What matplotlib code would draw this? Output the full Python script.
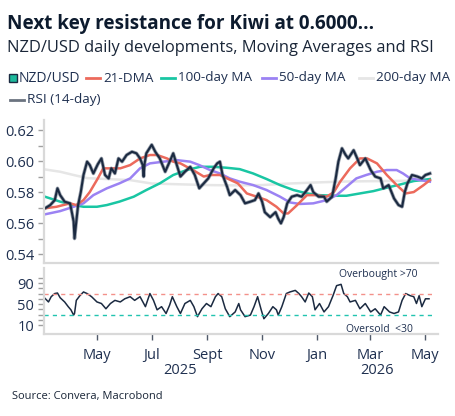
import numpy as np
import pandas as pd
import matplotlib
matplotlib.use("Agg")
import matplotlib.pyplot as plt
import matplotlib.dates as mdates
import matplotlib.transforms as mtransforms
from matplotlib.lines import Line2D

plt.rcParams['font.family'] = ['Open Sans', 'DejaVu Sans']

# NZD/USD daily
price_dates = ["2025-03-04", "2025-03-10", "2025-03-15", "2025-03-18", "2025-03-21", "2025-03-26",
               "2025-04-01", "2025-04-03", "2025-04-05", "2025-04-06", "2025-04-08", "2025-04-10",
               "2025-04-13", "2025-04-16", "2025-04-20", "2025-04-23", "2025-04-27", "2025-05-02",
               "2025-05-06", "2025-05-10", "2025-05-14", "2025-05-17", "2025-05-21", "2025-05-25",
               "2025-05-29", "2025-06-03", "2025-06-09", "2025-06-14", "2025-06-18", "2025-06-21",
               "2025-06-22", "2025-06-23", "2025-06-25", "2025-07-01", "2025-07-05", "2025-07-10",
               "2025-07-16", "2025-07-21", "2025-07-25", "2025-07-29", "2025-08-02", "2025-08-07",
               "2025-08-13", "2025-08-18", "2025-08-23", "2025-08-28", "2025-09-02", "2025-09-08",
               "2025-09-12", "2025-09-15", "2025-09-18", "2025-09-23", "2025-09-26", "2025-10-02",
               "2025-10-08", "2025-10-13", "2025-10-19", "2025-10-24", "2025-10-28", "2025-11-01",
               "2025-11-04", "2025-11-10", "2025-11-16", "2025-11-19", "2025-11-22", "2025-11-25",
               "2025-11-29", "2025-12-04", "2025-12-10", "2025-12-15", "2025-12-21", "2025-12-25",
               "2025-12-28", "2026-01-03", "2026-01-09", "2026-01-12", "2026-01-18", "2026-01-22",
               "2026-01-25", "2026-01-29", "2026-02-02", "2026-02-05", "2026-02-11", "2026-02-15",
               "2026-02-18", "2026-02-24", "2026-03-02", "2026-03-07", "2026-03-13", "2026-03-16",
               "2026-03-22", "2026-03-28", "2026-04-02", "2026-04-06", "2026-04-09", "2026-04-12",
               "2026-04-17", "2026-04-23", "2026-04-28", "2026-05-02", "2026-05-07"]
price = [0.5695, 0.5716, 0.5748, 0.5824, 0.578, 0.5738,
         0.5727, 0.567, 0.561, 0.550, 0.561, 0.5716,
         0.580, 0.591, 0.5996, 0.5974, 0.592, 0.598,
         0.6017, 0.591, 0.5888, 0.5953, 0.592, 0.6017,
         0.5996, 0.6039, 0.606, 0.605, 0.6017, 0.5974,
         0.590, 0.598, 0.605, 0.6105, 0.606, 0.6017,
         0.5931, 0.5996, 0.605, 0.5974, 0.590, 0.5931,
         0.5963, 0.591, 0.5824, 0.5856, 0.5888, 0.5953,
         0.5985, 0.5996, 0.591, 0.5834, 0.578, 0.5813,
         0.578, 0.5727, 0.5738, 0.5748, 0.5791, 0.5738,
         0.567, 0.5638, 0.567, 0.5628, 0.5598, 0.5638,
         0.5727, 0.577, 0.578, 0.577, 0.5813, 0.5845,
         0.580, 0.577, 0.577, 0.5738, 0.577, 0.5888,
         0.5996, 0.6082, 0.604, 0.6017, 0.607, 0.6017,
         0.5974, 0.6017, 0.5942, 0.590, 0.5888, 0.5824,
         0.5845, 0.5759, 0.5716, 0.5705, 0.580, 0.5856,
         0.591, 0.590, 0.5888, 0.591, 0.592]

dma21_dates = ["2025-03-04", "2025-03-17", "2025-04-01", "2025-04-08", "2025-04-16", "2025-04-23",
               "2025-05-02", "2025-05-08", "2025-05-15", "2025-05-27", "2025-06-07", "2025-06-18",
               "2025-06-29", "2025-07-07", "2025-07-18", "2025-07-25", "2025-08-02", "2025-08-09",
               "2025-08-16", "2025-08-28", "2025-09-04", "2025-09-15", "2025-09-23", "2025-10-05",
               "2025-10-15", "2025-10-26", "2025-11-06", "2025-11-17", "2025-11-25", "2025-11-30",
               "2025-12-10", "2025-12-21", "2026-01-01", "2026-01-12", "2026-01-20", "2026-01-27",
               "2026-02-07", "2026-02-18", "2026-02-26", "2026-03-09", "2026-03-20", "2026-03-31",
               "2026-04-10", "2026-04-19", "2026-04-30", "2026-05-07"]
dma21 = [0.5695, 0.5705, 0.5727, 0.5716, 0.5748, 0.580,
         0.5888, 0.5953, 0.5953, 0.5953, 0.5974, 0.6017,
         0.6039, 0.6039, 0.6017, 0.5996, 0.5985, 0.5963,
         0.5942, 0.590, 0.591, 0.591, 0.5888, 0.5856,
         0.5791, 0.577, 0.5748, 0.5705, 0.5662, 0.5662,
         0.5716, 0.578, 0.578, 0.577, 0.580, 0.5867,
         0.5953, 0.6017, 0.6017, 0.5985, 0.591, 0.5845,
         0.5791, 0.580, 0.5845, 0.5877]

ma50_dates = ["2025-03-04", "2025-03-21", "2025-04-05", "2025-04-16", "2025-04-27", "2025-05-12",
              "2025-05-26", "2025-06-07", "2025-06-18", "2025-06-29", "2025-07-14", "2025-07-29",
              "2025-08-13", "2025-08-23", "2025-09-04", "2025-09-15", "2025-09-26", "2025-10-07",
              "2025-10-22", "2025-11-06", "2025-11-21", "2025-12-02", "2025-12-13", "2025-12-28",
              "2026-01-12", "2026-01-23", "2026-02-03", "2026-02-14", "2026-02-25", "2026-03-09",
              "2026-03-20", "2026-03-31", "2026-04-07", "2026-04-15", "2026-04-26", "2026-05-07"]
ma50 = [0.5656, 0.5677, 0.5705, 0.5727, 0.578, 0.5824,
        0.5856, 0.5888, 0.5953, 0.5985, 0.5996, 0.6006,
        0.5996, 0.5974, 0.5942, 0.592, 0.5888, 0.5867,
        0.5845, 0.5813, 0.577, 0.5733, 0.5723, 0.5727,
        0.5748, 0.578, 0.5834, 0.5888, 0.591, 0.5931,
        0.5942, 0.5942, 0.592, 0.5888, 0.5877, 0.5867]

ma100_dates = ["2025-03-04", "2025-03-21", "2025-04-05", "2025-04-16", "2025-05-01", "2025-05-12",
               "2025-05-26", "2025-06-11", "2025-06-25", "2025-07-10", "2025-07-25", "2025-08-09",
               "2025-08-24", "2025-09-07", "2025-09-22", "2025-10-07", "2025-10-22", "2025-11-06",
               "2025-11-21", "2025-12-06", "2025-12-21", "2026-01-04", "2026-01-19", "2026-02-03",
               "2026-02-18", "2026-03-05", "2026-03-20", "2026-04-04", "2026-04-19", "2026-05-07"]
ma100 = [0.577, 0.5738, 0.5716, 0.5705, 0.5705, 0.5716,
         0.5738, 0.577, 0.5813, 0.5856, 0.591, 0.5942,
         0.5963, 0.5963, 0.5957, 0.5948, 0.592, 0.5884,
         0.5845, 0.5813, 0.5791, 0.578, 0.5776, 0.5776,
         0.5791, 0.5806, 0.5828, 0.5849, 0.5871, 0.5884]

ma200_dates = ["2025-03-04", "2025-03-21", "2025-04-05", "2025-04-20", "2025-05-12", "2025-06-07",
               "2025-07-01", "2025-08-01", "2025-09-01", "2025-10-01", "2025-11-01", "2025-12-01",
               "2026-01-01", "2026-02-01", "2026-03-01", "2026-04-01", "2026-05-07"]
ma200 = [0.5946, 0.5931, 0.591, 0.589, 0.5884, 0.5877,
         0.5855, 0.585, 0.5845, 0.5843, 0.5845, 0.5855,
         0.5862, 0.5868, 0.587, 0.5872, 0.5875]

rsi_dates = ["2025-03-04", "2025-03-08", "2025-03-11", "2025-03-15", "2025-03-18", "2025-03-21",
             "2025-03-26", "2025-03-30", "2025-04-02", "2025-04-05", "2025-04-06", "2025-04-08",
             "2025-04-12", "2025-04-16", "2025-04-20", "2025-04-25", "2025-05-01", "2025-05-06",
             "2025-05-11", "2025-05-16", "2025-05-21", "2025-05-27", "2025-06-01", "2025-06-07",
             "2025-06-12", "2025-06-18", "2025-06-24", "2025-06-29", "2025-07-03", "2025-07-07",
             "2025-07-12", "2025-07-17", "2025-07-21", "2025-07-24", "2025-07-29", "2025-08-02",
             "2025-08-07", "2025-08-13", "2025-08-17", "2025-08-21", "2025-08-26", "2025-08-31",
             "2025-09-05", "2025-09-10", "2025-09-13", "2025-09-17", "2025-09-21", "2025-09-26",
             "2025-10-02", "2025-10-06", "2025-10-08", "2025-10-13", "2025-10-19", "2025-10-23",
             "2025-10-27", "2025-10-31", "2025-11-03", "2025-11-08", "2025-11-13", "2025-11-17",
             "2025-11-19", "2025-11-23", "2025-11-28", "2025-12-02", "2025-12-08", "2025-12-12",
             "2025-12-15", "2025-12-19", "2025-12-23", "2025-12-27", "2025-12-30", "2026-01-04",
             "2026-01-09", "2026-01-14", "2026-01-19", "2026-01-23", "2026-01-28", "2026-01-31",
             "2026-02-04", "2026-02-07", "2026-02-13", "2026-02-18", "2026-02-24", "2026-03-02",
             "2026-03-07", "2026-03-13", "2026-03-17", "2026-03-23", "2026-03-28", "2026-04-02",
             "2026-04-06", "2026-04-10", "2026-04-15", "2026-04-19", "2026-04-22", "2026-04-25",
             "2026-04-28", "2026-05-02", "2026-05-06"]
rsi = [61, 54, 64, 70, 71, 62,
       54, 45, 39, 29, 32, 57,
       66, 73, 70, 64, 54, 51,
       41, 51, 57, 54, 60, 64,
       57, 64, 45, 70, 57, 39,
       45, 32, 48, 64, 45, 32,
       51, 57, 45, 26, 41, 51,
       45, 64, 70, 64, 41, 26,
       35, 51, 39, 26, 29, 45,
       64, 39, 22, 32, 45, 39,
       29, 45, 70, 73, 76, 70,
       64, 54, 71, 64, 39, 51,
       35, 45, 66, 85, 87.5, 70,
       64, 54, 57, 41, 51, 35,
       41, 29, 45, 35, 32, 35,
       57, 70, 66, 64, 51, 66,
       45, 60, 60]

month_ticks = ["2025-05-01", "2025-07-01", "2025-09-01", "2025-11-01", "2026-01-01", "2026-03-01", "2026-05-01"]
month_labels = ["May", "Jul", "Sept", "Nov", "Jan", "Mar", "May"]
years = ["2025", "2026"]

navy = "#1b2a41"
txt = "#1f3050"
spine_c = "#d9d9d9"
c21 = "#ec6a5c"
c50 = "#9b82f3"
c100 = "#19c6a3"
c200 = "#e6e6e6"

W, H = 455, 416
fig = plt.figure(figsize=(W / 100, H / 100), dpi=100)

def fx(x):
    return x / W

def fy(y):
    return 1 - y / H

x0 = pd.Timestamp("2025-03-03")
x1 = pd.Timestamp("2026-05-16")

ax = fig.add_axes([fx(44), fy(263), fx(438) - fx(44), fy(120) - fy(263)])
ax2 = fig.add_axes([fx(44), fy(334), fx(438) - fx(44), fy(268) - fy(334)])

ax.plot(pd.to_datetime(ma200_dates), ma200, color=c200, lw=1.8)
ax.plot(pd.to_datetime(ma100_dates), ma100, color=c100, lw=1.8)
ax.plot(pd.to_datetime(ma50_dates), ma50, color=c50, lw=1.8)
ax.plot(pd.to_datetime(dma21_dates), dma21, color=c21, lw=1.8)
ax.plot(pd.to_datetime(price_dates), price, color="#5a6678", lw=2.6, alpha=0.6)
ax.plot(pd.to_datetime(price_dates), price, color=navy, lw=1.5)

ax.set_xlim(x0, x1)
ax.set_ylim(0.5342, 0.6265)
ax.set_yticks([0.54, 0.56, 0.58, 0.60, 0.62])
ax.set_yticks(np.arange(0.54, 0.625, 0.01), minor=True)
ax.yaxis.set_major_formatter(plt.FuncFormatter(lambda v, p: "%.2f" % v))
ax.set_xticks([])
for s in ["top", "right"]:
    ax.spines[s].set_visible(False)
for s in ["left", "bottom"]:
    ax.spines[s].set_color(spine_c)
    ax.spines[s].set_linewidth(1.6)
ax.tick_params(axis="y", which="both", length=4, width=1, color="#a0a0a0",
               labelsize=10.5, labelcolor=txt, pad=3)

# RSI panel
ax2.plot(pd.to_datetime(rsi_dates), rsi, color=navy, lw=1.1)
ax2.axhline(70, xmax=0.985, color="#f3918a", lw=1, ls=(0, (3, 3)))
ax2.axhline(30, xmax=0.985, color="#22c4b0", lw=1, ls=(0, (3, 3)))
ax2.text(pd.Timestamp("2026-03-10"), 106, "Overbought >70", fontsize=7.5, color=txt,
         ha="center", va="center")
ax2.text(pd.Timestamp("2026-03-12"), 2, "Oversold  <30", fontsize=7.5, color=txt,
         ha="center", va="center")
ax2.set_xlim(x0, x1)
ax2.set_ylim(-7, 118.6)
ax2.set_yticks([10, 50, 90])
ax2.set_yticks(np.arange(10, 101, 10), minor=True)
ax2.set_xticks(pd.to_datetime(month_ticks))
ax2.set_xticklabels(month_labels)
for s in ["top", "right"]:
    ax2.spines[s].set_visible(False)
for s in ["left", "bottom"]:
    ax2.spines[s].set_color(spine_c)
    ax2.spines[s].set_linewidth(1.6)
ax2.tick_params(axis="y", which="both", length=4, width=1, color="#a0a0a0",
                labelsize=10.5, labelcolor=txt, pad=3)
ax2.tick_params(axis="x", length=4, width=1, color="#505a6a",
                labelsize=10.5, labelcolor=txt, pad=6)

# year labels centred on the visible part of each year
year_tr = mtransforms.blended_transform_factory(ax2.transData, fig.transFigure)
year_spans = [(x0, pd.Timestamp("2026-01-01")), (pd.Timestamp("2026-01-01"), x1)]
for yr, (a, b) in zip(years, year_spans):
    mid = (mdates.date2num(a) + mdates.date2num(b)) / 2
    ax2.text(mid, fy(371), yr, transform=year_tr, ha="center", va="center",
             fontsize=10.5, color=txt)

# titles
fig.text(fx(7), fy(29), "Next key resistance for Kiwi at 0.6000...", fontsize=13.6,
         fontweight="bold", color="#0d1b2e", va="baseline")
fig.text(fx(7), fy(52), "NZD/USD daily developments, Moving Averages and RSI", fontsize=11.9,
         color="#1a2638", va="baseline")
fig.text(fx(12), fy(397), "Source: Convera, Macrobond", fontsize=8, color="#1a2638",
         va="center")

# legend drawn by hand
leg_y = 78
fig.add_artist(Line2D([fx(13)], [fy(leg_y)], marker="s", markersize=5.5, color="#1db99b",
                      markeredgecolor=navy, markeredgewidth=1, transform=fig.transFigure))
legend_items = [("21-DMA", c21, 86), ("100-day MA", c100, 161), ("50-day MA", c50, 262),
                ("200-day MA", c200, 359)]
fig.text(fx(19), fy(leg_y), "NZD/USD", fontsize=10, color=txt, va="center")
for lab, col, xs in legend_items:
    fig.add_artist(Line2D([fx(xs), fx(xs + 14)], [fy(leg_y), fy(leg_y)], color=col, lw=2,
                          transform=fig.transFigure))
    fig.text(fx(xs + 17), fy(leg_y), lab, fontsize=9.7, color=txt, va="center")
fig.add_artist(Line2D([fx(10), fx(24)], [fy(100), fy(100)], color="#6b7380", lw=2,
                      transform=fig.transFigure))
fig.text(fx(27), fy(100), "RSI (14-day)", fontsize=9.7, color=txt, va="center")

fig.savefig("out.png", dpi=100)
